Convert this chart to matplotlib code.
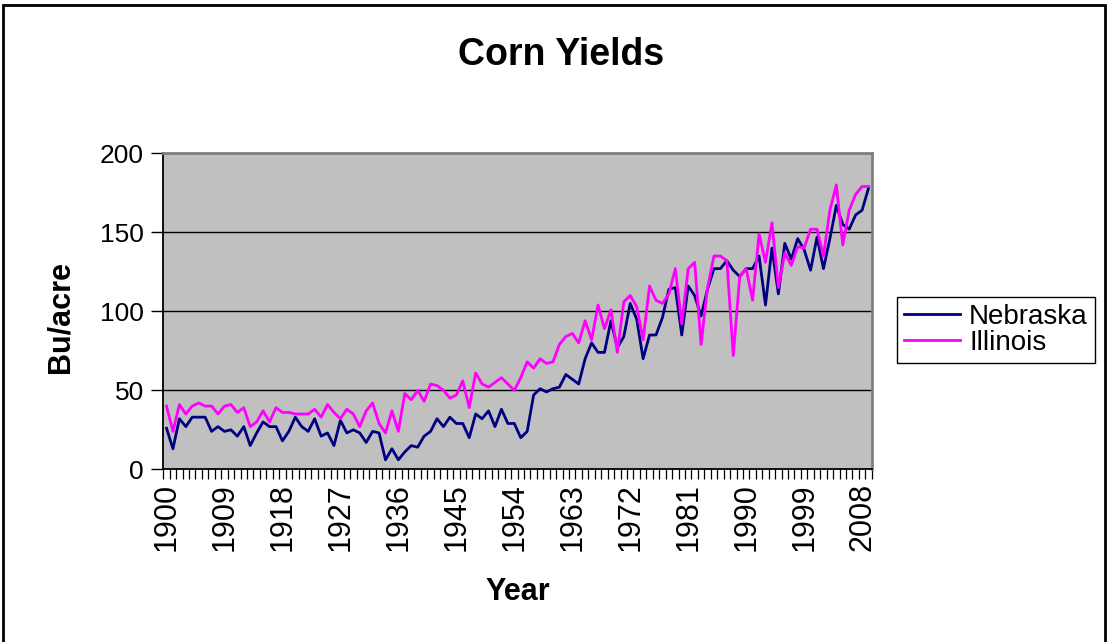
import matplotlib
matplotlib.use('Agg')
import matplotlib.pyplot as plt
import numpy as np
from matplotlib.patches import Rectangle

# corn yields, bu/acre, 1900-2009
years = list(range(1900, 2010))

nebraska = [26, 13, 32, 27, 33, 33, 33, 24, 27, 24,
            25, 21, 27, 15, 23, 30, 27, 27, 18, 24,
            33, 27, 24, 32, 21, 23, 15, 31, 23, 25,
            23, 17, 24, 23, 6, 13, 6, 11, 15, 14,
            21, 24, 32, 27, 33, 29, 29, 20, 35, 32,
            37, 27, 38, 29, 29, 20, 24, 47, 51, 49,
            51, 52, 60, 57, 54, 70, 80, 74, 74, 94,
            77, 84, 105, 95, 70, 85, 85, 96, 114, 115,
            85, 116, 110, 97, 114, 127, 127, 132, 126, 122,
            127, 127, 135, 104, 140, 111, 143, 133, 146, 139,
            126, 147, 127, 146, 167, 155, 152, 161, 164, 178]

illinois = [40, 24, 41, 35, 40, 42, 40, 40, 35, 40,
            41, 36, 39, 27, 30, 37, 30, 39, 36, 36,
            35, 35, 35, 38, 33, 41, 36, 32, 38, 35,
            27, 37, 42, 29, 23, 37, 24, 48, 44, 50,
            43, 54, 53, 50, 45, 47, 56, 39, 61, 54,
            52, 55, 58, 54, 50, 58, 68, 64, 70, 67,
            68, 79, 84, 86, 80, 94, 82, 104, 89, 101,
            74, 106, 110, 103, 82, 116, 107, 105, 111, 127,
            92, 127, 131, 79, 115, 135, 135, 132, 72, 122,
            127, 107, 149, 131, 156, 115, 137, 129, 141, 140,
            152, 152, 135, 164, 180, 142, 164, 174, 179, 179]

label_step = 9

plt.rcParams['font.family'] = ['Liberation Sans', 'DejaVu Sans']

fig = plt.figure(figsize=(11.07, 6.42), dpi=100)

# outer chart border
fig.patches.append(Rectangle((3 / 1107, -0.01), 1102 / 1107, 1 - 5 / 642 + 0.01,
                             transform=fig.transFigure, fill=False,
                             edgecolor='black', lw=2))

ax = fig.add_axes([0.1475, 0.269, 0.640, 0.4922])
x = np.arange(len(years))
ax.plot(x, nebraska, color='#000080', lw=2.0, label='Nebraska')
ax.plot(x, illinois, color='#FF00FF', lw=2.0, label='Illinois')

ax.set_facecolor('#C0C0C0')
ax.set_xlim(-0.5, len(years) - 0.5)
ax.set_ylim(0, 200)
ax.set_yticks([0, 50, 100, 150, 200])
ax.yaxis.grid(True, color='black', lw=1)
ax.set_axisbelow(True)

for s in ['top', 'right']:
    ax.spines[s].set_color('#808080')
    ax.spines[s].set_linewidth(2)
for s in ['left', 'bottom']:
    ax.spines[s].set_color('black')
    ax.spines[s].set_linewidth(1.3)

ax.set_xticks(x[::label_step])
ax.set_xticklabels([str(y) for y in years[::label_step]], rotation=90)
ax.set_xticks(np.arange(-0.5, len(years)), minor=True)
ax.tick_params(axis='x', which='major', length=0, pad=10, labelsize=22)
ax.tick_params(axis='x', which='minor', length=7, width=0.9)
ax.tick_params(axis='y', length=9, width=1, pad=5, labelsize=19)

fig.text(0.507, 0.914, 'Corn Yields', ha='center', va='center',
         fontsize=27, fontweight='bold')
fig.text(0.0551, 0.506, 'Bu/acre', ha='center', va='center', rotation=90,
         fontsize=22, fontweight='bold')
fig.text(0.468, 0.078, 'Year', ha='center', va='center',
         fontsize=22, fontweight='bold')

leg = fig.legend(loc='upper left', bbox_to_anchor=(897 / 1107, 1 - 297 / 642),
                 fontsize=20, frameon=True, fancybox=False, framealpha=1,
                 edgecolor='black', handlelength=2.0, handletextpad=0.35,
                 labelspacing=0.0, borderpad=0.25, borderaxespad=0)
leg.get_frame().set_linewidth(1)

fig.savefig('out.png', dpi=100)
